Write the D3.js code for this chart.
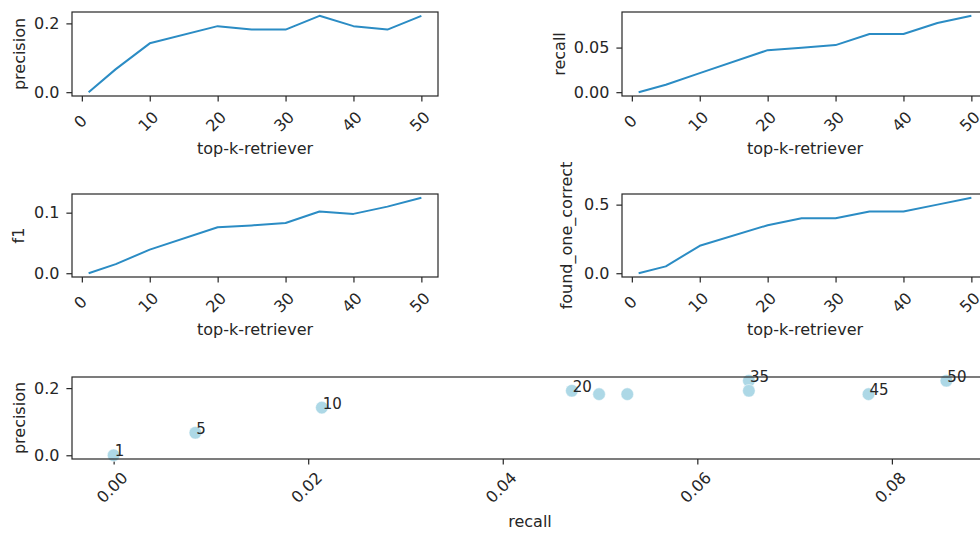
<!DOCTYPE html>
<html>
<head>
<meta charset="utf-8">
<script src="https://cdn.jsdelivr.net/npm/d3@7"></script>
<style>
  body { margin: 0; background: #fff; }
  svg { display: block; }
  text { font-family: "DejaVu Sans", sans-serif; fill: #262626; }
</style>
</head>
<body>
<svg id="chart" width="980" height="533"></svg>
<script>
// Retriever evaluation metrics by top-k
const topK = [1, 5, 10, 20, 25, 30, 35, 40, 45, 50];
const precision = [0, 0.067, 0.142, 0.192, 0.182, 0.182, 0.222, 0.192, 0.182, 0.222];
const recall = [0, 0.0084, 0.0214, 0.0471, 0.0499, 0.0528, 0.0653, 0.0653, 0.0776, 0.0856];
const f1 = [0, 0.015, 0.039, 0.076, 0.079, 0.083, 0.102, 0.098, 0.110, 0.1246];
const foundOneCorrect = [0, 0.05, 0.2, 0.35, 0.4, 0.4, 0.45, 0.45, 0.5, 0.55];

// Tick values
const kTicks = [0, 10, 20, 30, 40, 50];
const precisionTicks = [0, 0.2];
const recallTicks = [0, 0.05];
const f1Ticks = [0, 0.1];
const foundTicks = [0, 0.5];
const recallScatterTicks = [0, 0.02, 0.04, 0.06, 0.08];
// top-k values annotated in the precision/recall scatter
const annotatedK = [1, 5, 10, 20, 35, 45, 50];

const LINE_COLOR = "#2b8cc4";
const POINT_COLOR = "#add8e6";
const SPINE = "#262626";
const TICK_LEN = 5.6;

const svg = d3.select("#chart");
svg.append("rect").attr("width", 980).attr("height", 533).attr("fill", "#fff");

// matplotlib-style 5% data margins
function padded(values) {
  const [lo, hi] = d3.extent(values);
  const r = hi - lo;
  return [lo - 0.05 * r, hi + 0.05 * r];
}

function styleAxis(g) {
  g.select(".domain").remove();
  g.selectAll(".tick line").attr("stroke", SPINE).attr("stroke-width", 1.2);
  g.selectAll(".tick text").attr("font-size", 16).attr("fill", "#262626");
}

function rotateXLabels(g, dy) {
  g.selectAll(".tick text")
    .attr("y", null).attr("dy", null)
    .attr("text-anchor", "middle")
    .attr("dominant-baseline", "central")
    .attr("transform", `translate(-2,${dy}) rotate(-45)`);
}

function drawFrame(g, w, h) {
  g.append("rect")
    .attr("width", w).attr("height", h)
    .attr("fill", "none").attr("stroke", SPINE).attr("stroke-width", 1.2);
}

function yLabel(g, text, offset, h) {
  g.append("text")
    .attr("transform", `translate(${offset},${h / 2}) rotate(-90)`)
    .attr("text-anchor", "middle")
    .attr("font-size", 16)
    .text(text);
}

const linePanels = [
  { values: precision, name: "precision", ticks: precisionTicks, fmt: ".1f", left: 72, top: 12, h: 84, labelOff: -47 },
  { values: recall, name: "recall", ticks: recallTicks, fmt: ".2f", left: 622, top: 12, h: 84, labelOff: -57 },
  { values: f1, name: "f1", ticks: f1Ticks, fmt: ".1f", left: 72, top: 194, h: 83, labelOff: -48 },
  { values: foundOneCorrect, name: "found_one_correct", ticks: foundTicks, fmt: ".1f", left: 622, top: 194, h: 83, labelOff: -50 }
];
const PANEL_W = 366;

linePanels.forEach(p => {
  const g = svg.append("g").attr("transform", `translate(${p.left},${p.top})`);
  const x = d3.scaleLinear().domain(padded(topK)).range([0, PANEL_W]);
  const y = d3.scaleLinear().domain(padded(p.values)).range([p.h, 0]);

  const xa = g.append("g").attr("transform", `translate(0,${p.h})`)
    .call(d3.axisBottom(x).tickValues(kTicks).tickFormat(d3.format("d")).tickSize(TICK_LEN));
  styleAxis(xa);
  rotateXLabels(xa, 25.5);

  const ya = g.append("g")
    .call(d3.axisLeft(y).tickValues(p.ticks).tickFormat(d3.format(p.fmt)).tickSize(TICK_LEN).tickPadding(7));
  styleAxis(ya);

  g.append("path")
    .datum(topK.map((k, i) => [k, p.values[i]]))
    .attr("fill", "none")
    .attr("stroke", LINE_COLOR)
    .attr("stroke-width", 2)
    .attr("stroke-linejoin", "round")
    .attr("d", d3.line().x(d => x(d[0])).y(d => y(d[1])));

  drawFrame(g, PANEL_W, p.h);

  g.append("text")
    .attr("x", PANEL_W / 2).attr("y", p.h + 57.5)
    .attr("text-anchor", "middle").attr("font-size", 16)
    .text("top-k-retriever");

  yLabel(g, p.name, p.labelOff, p.h);
});

// Precision vs recall scatter, annotated with top-k
{
  const left = 72, top = 377, w = 916, h = 82;
  const g = svg.append("g").attr("transform", `translate(${left},${top})`);
  const x = d3.scaleLinear().domain(padded(recall)).range([0, w]);
  const y = d3.scaleLinear().domain(padded(precision)).range([h, 0]);

  const xa = g.append("g").attr("transform", `translate(0,${h})`)
    .call(d3.axisBottom(x).tickValues(recallScatterTicks).tickFormat(d3.format(".2f")).tickSize(TICK_LEN));
  styleAxis(xa);
  rotateXLabels(xa, 28.5);

  const ya = g.append("g")
    .call(d3.axisLeft(y).tickValues(precisionTicks).tickFormat(d3.format(".1f")).tickSize(TICK_LEN).tickPadding(7));
  styleAxis(ya);

  const pts = topK.map((k, i) => ({ k, r: recall[i], p: precision[i] }));
  g.selectAll("circle.pt").data(pts).join("circle")
    .attr("class", "pt")
    .attr("cx", d => x(d.r)).attr("cy", d => y(d.p))
    .attr("r", 6.3)
    .attr("fill", POINT_COLOR)
    .attr("stroke", "#fff").attr("stroke-width", 0.5);

  drawFrame(g, w, h);

  g.selectAll("text.ann").data(pts.filter(d => annotatedK.includes(d.k))).join("text")
    .attr("class", "ann")
    .attr("x", d => x(d.r) + 1).attr("y", d => y(d.p) + 1)
    .attr("font-size", 15)
    .text(d => d.k);

  g.append("text")
    .attr("x", 458).attr("y", h + 68)
    .attr("text-anchor", "middle").attr("font-size", 16)
    .text("recall");

  yLabel(g, "precision", -47, h);
}
</script>
</body>
</html>
